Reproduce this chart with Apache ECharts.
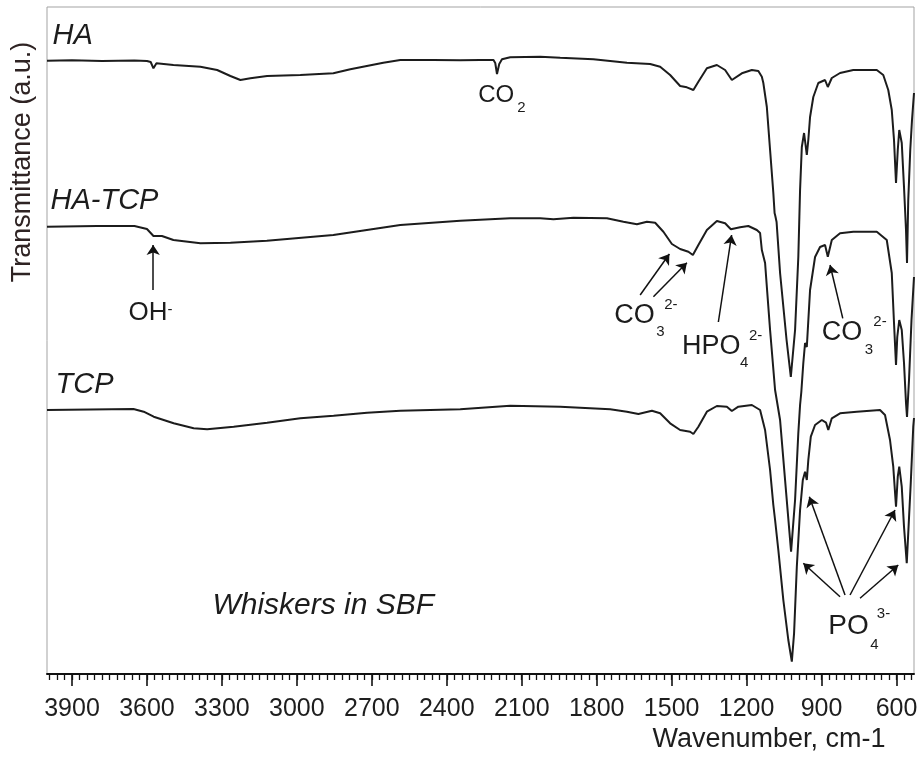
<!DOCTYPE html>
<html>
<head>
<meta charset="utf-8">
<script src="https://cdn.jsdelivr.net/npm/echarts@6/dist/echarts.min.js"></script>
<style>
  html, body { margin: 0; padding: 0; background: #ffffff; }
  #chart { width: 920px; height: 759px; }
</style>
</head>
<body>
<div id="chart"></div>
<script>
const FONT = '"Liberation Sans", Arial, Helvetica, sans-serif';
const INK = '#1c1c1c';

// FTIR spectra: wavenumber (cm-1) and stacked transmittance (a.u., offset per sample)
const haWavenumber = [4000, 3900, 3780, 3650, 3600, 3585, 3574, 3562, 3494, 3386, 3319, 3266, 3226, 3186, 3119, 2986, 2854, 2786, 2654, 2586, 2454, 2346, 2266, 2213, 2206, 2199, 2190, 2179, 2146, 2026, 1946, 1813, 1679, 1586, 1546, 1506, 1466, 1439, 1413, 1393, 1359, 1319, 1286, 1259, 1219, 1179, 1153, 1139, 1133, 1119, 1106, 1093, 1088, 1085, 1080, 1066, 1040, 1023, 1006, 993, 986, 979, 970, 959, 953, 946, 933, 913, 886, 875, 859, 826, 773, 679, 653, 633, 619, 610, 602, 595, 589, 579, 570, 562, 558, 553, 545, 538, 530];
const haSignal = [613.3, 613.7, 613, 613.5, 613, 612, 605.7, 610.7, 609, 607.3, 604, 598, 594, 595.7, 598, 599, 600.7, 604.7, 611.3, 614, 614, 613.7, 614, 614, 611, 600, 610, 614.7, 616.7, 617.3, 616.3, 614.7, 611.3, 610, 607.3, 599, 588, 586.7, 584, 592.3, 605.7, 609, 604, 594, 600.7, 604, 603, 597.3, 591, 567, 524, 481, 461, 458, 452, 401, 334, 297, 344, 417, 484, 527, 541, 519, 534, 557, 577, 591, 594, 587, 596, 601, 604, 604, 599, 584, 564, 534, 491, 524, 544, 531, 487, 444, 411, 474, 524, 554, 581];

const hatcpWavenumber = [4000, 3800, 3650, 3600, 3585, 3574, 3540, 3494, 3386, 3266, 3120, 2854, 2586, 2346, 2146, 2026, 1973, 1893, 1759, 1693, 1639, 1599, 1566, 1533, 1499, 1466, 1433, 1415, 1393, 1359, 1319, 1286, 1263, 1226, 1193, 1159, 1146, 1139, 1126, 1119, 1106, 1086, 1066, 1046, 1022, 1006, 993, 986, 981, 973, 966, 959, 946, 926, 906, 886, 875, 859, 826, 773, 679, 639, 619, 610, 602, 597, 589, 579, 570, 562, 558, 550, 540, 530];
const hatcpSignal = [447.3, 448, 448, 445, 441, 438, 438, 434, 430.7, 431.3, 433.3, 439, 449, 453.3, 455.7, 455.7, 454.7, 456.3, 455.7, 452.3, 449.7, 452.3, 451.3, 442.3, 430, 425, 422.3, 419, 429, 444, 453, 450.7, 444.7, 446.7, 448, 444, 441, 424, 411, 387.3, 344, 284, 254, 194, 122.3, 174, 241, 269, 282, 311, 331, 327, 384, 417, 427, 429, 417.3, 434, 440.7, 442.3, 442.3, 434, 401, 351, 309, 337, 354, 344, 311, 271, 257, 294, 354, 397];

const tcpWavenumber = [4000, 3654, 3613, 3573, 3493, 3413, 3359, 3253, 3119, 2986, 2853, 2719, 2586, 2346, 2146, 1946, 1746, 1679, 1633, 1579, 1546, 1506, 1466, 1426, 1413, 1393, 1359, 1319, 1279, 1259, 1233, 1179, 1146, 1126, 1106, 1093, 1086, 1073, 1053, 1033, 1019, 1010, 999, 986, 975, 966, 959, 953, 943, 926, 899, 882, 873, 859, 826, 759, 666, 646, 626, 613, 602, 595, 589, 579, 570, 559, 553, 543, 533, 530];
const tcpSignal = [264, 265, 262.3, 257.3, 250.7, 245.7, 244.7, 247.3, 251.3, 255.7, 258.3, 261.3, 263.3, 264.7, 268.3, 267.3, 264.7, 262.3, 260, 263.3, 260.7, 250.7, 244, 242.3, 240, 247.3, 262.3, 268, 267.3, 263, 267.3, 269, 264, 244, 204, 169, 154, 124, 74, 34, 12.3, 40.7, 107.3, 164, 194, 202.3, 194, 214, 237.3, 249, 254, 251.3, 244, 255.7, 260.7, 262.3, 264, 259, 234, 207.3, 167.3, 197.3, 207.3, 187.3, 147.3, 110.7, 141, 191, 247.3, 256];

// axis ticks
const majorTickValues = [3900, 3600, 3300, 3000, 2700, 2400, 2100, 1800, 1500, 1200, 900, 600];
const minorTickValues = [];
for (let w = 3990; w >= 540; w -= 30) minorTickValues.push(w);

// sample names, placed at (wavenumber, signal)
const sampleNames = ['HA', 'HA-TCP', 'TCP'];
const sampleNameAnchors = [[3978, 638], [3986, 473], [3966, 289]];

// band assignments: main text + sub/superscripts, anchored at (wavenumber, signal)
const bandLabels = [
  { w: 2274, v: 578.5, size: 24, parts: [['CO', 0, 0], ['2', 39, 12, 'sub']] },
  { w: 3674, v: 361, size: 26, parts: [['OH', 0, 0], ['-', 39, -3, 'sup']] },
  { w: 1730, v: 358.5, size: 27, parts: [['CO', 0, 0], ['3', 42, 16.5, 'sub'], ['2-', 50, -11, 'sup']] },
  { w: 1459, v: 327.7, size: 27, parts: [['HPO', 0, 0], ['4', 58, 16.7, 'sub'], ['2-', 67, -10.3, 'sup']] },
  { w: 899, v: 341.5, size: 27, parts: [['CO', 0, 0], ['3', 43, 17, 'sub'], ['2-', 51.5, -10.8, 'sup']] },
  { w: 873, v: 48.2, size: 28, parts: [['PO', 0, 0], ['4', 42, 19, 'sub'], ['3-', 48.5, -11.8, 'sup']] }
];

// arrows from band labels to the bands: [[fromW, fromV], [toW, toV]]
const bandArrows = [
  [[3575, 384], [3575, 429]],
  [[1626, 379], [1509, 420]],
  [[1573, 377.3], [1439, 411.3]],
  [[1313, 352], [1260, 439]],
  [[815, 355.7], [866, 409]],
  [[826, 77.3], [973, 110.7]],
  [[806, 79], [949, 177.3]],
  [[786, 79], [606, 164]],
  [[746, 75.7], [593, 109]]
];

const mediumNote = { text: 'Whiskers in SBF', w: 3338, v: 68 };

function pairs(xs, ys) { return xs.map((x, i) => [x, ys[i]]); }

const chart = echarts.init(document.getElementById('chart'), null, { renderer: 'canvas', width: 920, height: 759 });

const spectrumLine = { width: 2, color: INK };

chart.setOption({
  animation: false,
  backgroundColor: '#ffffff',
  grid: {
    left: 47, right: 6, top: 7, bottom: 85, show: true,
    borderColor: '#a3a3a3', borderWidth: 1, backgroundColor: 'transparent',
    containLabel: false, outerBoundsMode: 'none'
  },
  xAxis: [
    {
      type: 'value', min: 530, max: 4000, inverse: true, position: 'bottom',
      axisLine: { show: true, onZero: false, lineStyle: { color: '#111', width: 2 } },
      axisTick: { show: true, customValues: majorTickValues, length: 12, lineStyle: { color: '#111', width: 1.6 } },
      axisLabel: {
        show: true, customValues: majorTickValues, margin: 23, fontSize: 25, fontFamily: FONT, color: '#1e1e1e',
        formatter: v => String(v)
      },
      splitLine: { show: false }
    },
    {
      type: 'value', min: 530, max: 4000, inverse: true, position: 'bottom',
      axisLine: { show: false, onZero: false },
      axisTick: { show: true, customValues: minorTickValues, length: 6, lineStyle: { color: '#111', width: 1.3 } },
      axisLabel: { show: false },
      splitLine: { show: false }
    }
  ],
  yAxis: { type: 'value', min: 0, max: 667, show: false },
  series: [
    { name: 'HA', type: 'line', data: pairs(haWavenumber, haSignal), showSymbol: false, lineStyle: spectrumLine, silent: true },
    { name: 'HA-TCP', type: 'line', data: pairs(hatcpWavenumber, hatcpSignal), showSymbol: false, lineStyle: spectrumLine, silent: true },
    {
      name: 'TCP', type: 'line', data: pairs(tcpWavenumber, tcpSignal), showSymbol: false, lineStyle: spectrumLine, silent: true,
      markLine: {
        silent: true, symbol: ['none', 'arrow'], symbolSize: 10, label: { show: false },
        lineStyle: { color: '#111', width: 1.5, type: 'solid' },
        itemStyle: { color: '#111' },
        emphasis: { disabled: true },
        data: bandArrows.map(a => [{ coord: a[0] }, { coord: a[1] }])
      }
    }
  ]
});

// text layer positioned through the chart's own coordinate system
const toPx = (w, v) => chart.convertToPixel({ gridIndex: 0 }, [w, v]);
const graphics = [];

sampleNames.forEach((name, i) => {
  const p = toPx(sampleNameAnchors[i][0], sampleNameAnchors[i][1]);
  graphics.push({ type: 'text', x: p[0], y: p[1], silent: true,
    style: { text: name, fontSize: 29, fontStyle: 'italic', fontFamily: FONT, fill: INK, align: 'left', verticalAlign: 'middle' } });
});

bandLabels.forEach(lab => {
  const p = toPx(lab.w, lab.v);
  lab.parts.forEach(part => {
    const small = part[3] === 'sub' || part[3] === 'sup';
    graphics.push({ type: 'text', x: p[0] + part[1], y: p[1] + part[2], silent: true,
      style: { text: part[0], fontSize: small ? 15 : lab.size, fontFamily: FONT, fill: INK, align: 'left', verticalAlign: 'middle' } });
  });
});

const np = toPx(mediumNote.w, mediumNote.v);
graphics.push({ type: 'text', x: np[0], y: np[1], silent: true,
  style: { text: mediumNote.text, fontSize: 30, fontStyle: 'italic', fontFamily: FONT, fill: INK, align: 'left', verticalAlign: 'middle' } });

// axis titles
graphics.push({ type: 'text', x: 23, y: 162, rotation: Math.PI / 2, silent: true,
  style: { text: 'Transmittance (a.u.)', fontSize: 27, fontFamily: FONT, fill: '#2e2323', align: 'center', verticalAlign: 'middle' } });
graphics.push({ type: 'text', x: 769, y: 740, silent: true,
  style: { text: 'Wavenumber, cm-1', fontSize: 27, fontFamily: FONT, fill: '#1e1e1e', align: 'center', verticalAlign: 'middle' } });

chart.setOption({ graphic: graphics });
</script>
</body>
</html>
